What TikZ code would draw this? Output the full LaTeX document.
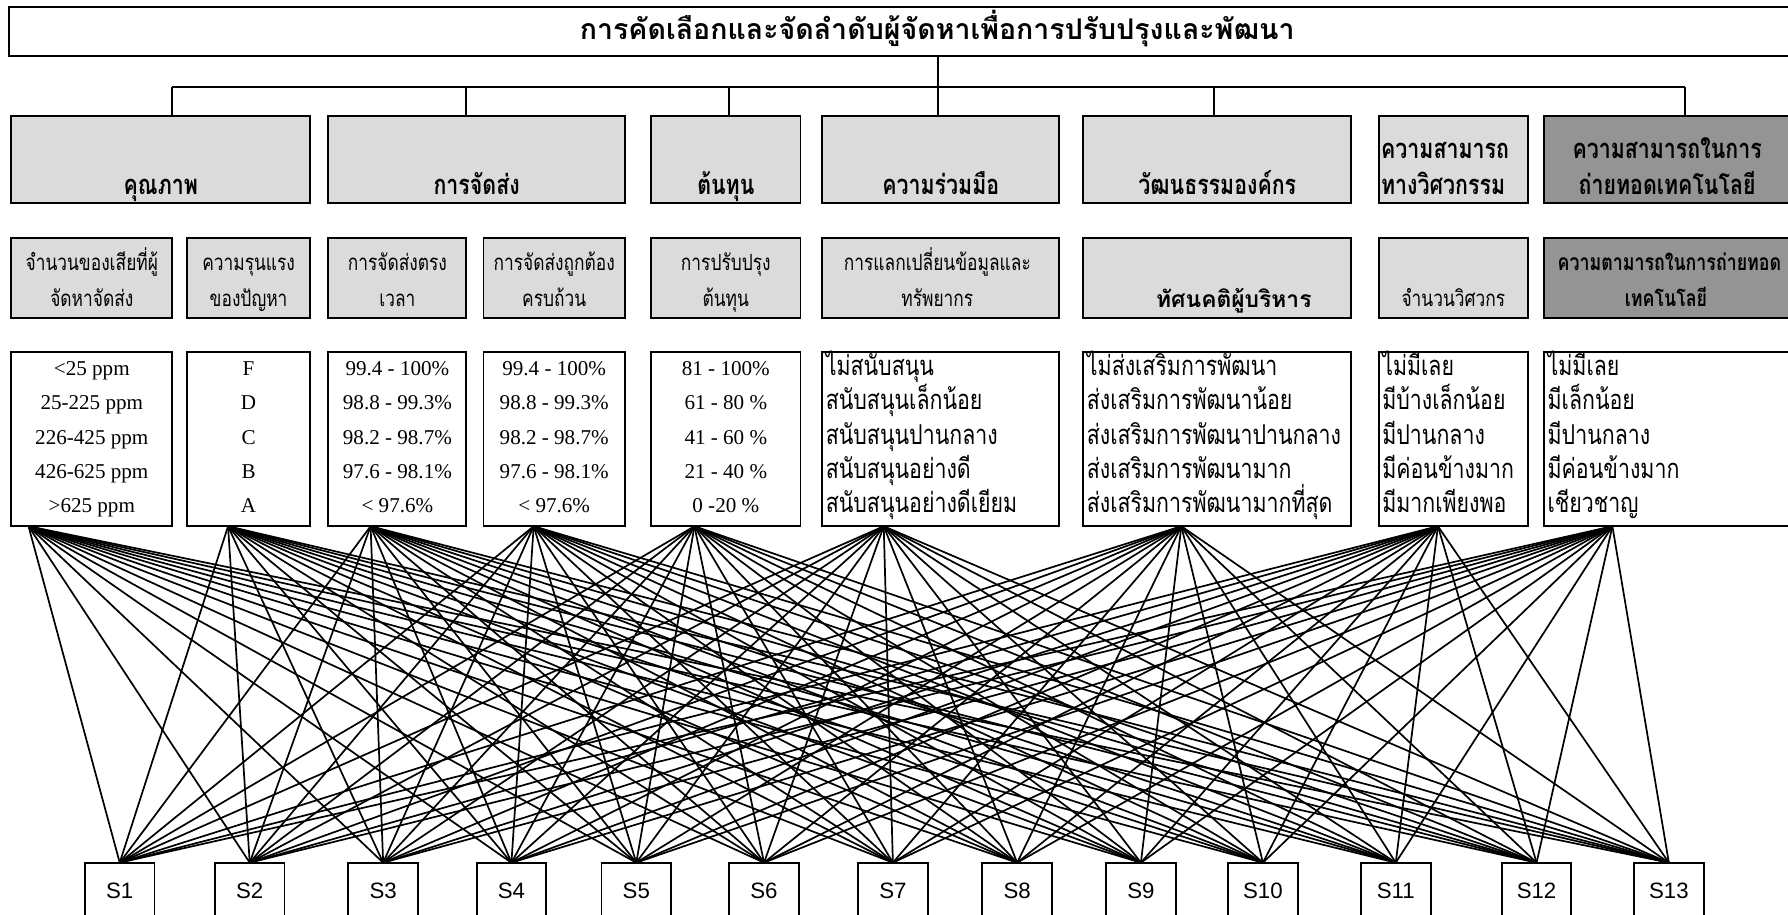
\documentclass[tikz,border=0pt]{standalone}
\usepackage{fontspec}
\setmainfont{Liberation Serif}
\newfontfamily\thai[Script=Thai,FakeStretch=0.78]{Loma}
\newfontfamily\thaiw[Script=Thai]{Loma}
\newfontfamily\arialf{Liberation Sans}
\usetikzlibrary{calc}
\definecolor{lightbox}{gray}{0.86}
\definecolor{darkbox}{gray}{0.58}
\newcommand\mkbox[6]{\node[#1, anchor=north west, minimum width={#4-#3}, minimum height={#6-#5}] (#2) at (#3,#5) {};}
\begin{document}
\begin{tikzpicture}[x=1pt,y=-1pt,
  box/.style={draw, line width=1.7pt, inner sep=0pt, outer sep=0pt},
  lbox/.style={box, fill=lightbox},
  dbox/.style={box, fill=darkbox},
  wbox/.style={box, fill=white},
  bus/.style={line width=1.7pt},
  conn/.style={line width=1.5pt},
  ttl/.style={font=\thaiw\bfseries\fontsize{25}{30}\selectfont, inner sep=0pt, anchor=base},
  hdr/.style={font=\thai\bfseries\fontsize{24}{28}\selectfont, inner sep=0pt, anchor=base},
  sub/.style={font=\thai\fontsize{19.5}{23}\selectfont, inner sep=0pt, anchor=base},
  subb/.style={font=\thai\bfseries\fontsize{20}{24}\selectfont, inner sep=0pt, anchor=base},
  subw/.style={font=\thaiw\bfseries\fontsize{20}{24}\selectfont, inner sep=0pt, anchor=base},
  val/.style={font=\fontsize{18.5}{22}\selectfont, inner sep=0pt, anchor=base},
  tval/.style={font=\thai\fontsize{24}{28}\selectfont, inner sep=0pt, anchor=base west},
  sup/.style={box, fill=white, anchor=north, minimum width=61, minimum height=70},
  slab/.style={font=\arialf\fontsize{19.5}{22}\selectfont, inner sep=0pt, anchor=base}
]
\useasboundingbox (0,0) rectangle (1568,802.4);
\fill[white] (0,0) rectangle (1568,802.4);

% title
\mkbox{wbox}{top}{7.5}{1640}{5.8}{49}
\node[ttl] (toptxt) at (822,34.5) {การคัดเลือกและจัดลำดับผู้จัดหาเพื่อการปรับปรุงและพัฒนา};

% row 2
\mkbox{lbox}{c1}{10}{272}{102}{178}
\mkbox{lbox}{c2}{288}{548}{102}{178}
\mkbox{lbox}{c3}{571}{702}{102}{178}
\mkbox{lbox}{c4}{721}{929}{102}{178}
\mkbox{lbox}{c5}{950}{1185}{102}{178}
\mkbox{lbox}{c6}{1209}{1340}{102}{178}
\mkbox{dbox}{c7}{1354}{1572}{102}{178}

% bus
\coordinate (bus0) at (822.6,76.6);
\draw[bus] (top.south -| bus0) -- (bus0);
\draw[bus] (151,76.6) coordinate (busL) -- (1478,76.6) coordinate (busR);
\draw[bus] (busL) -- (c1.north -| busL);
\draw[bus] (409,76.6) coordinate (b2) -- (c2.north -| b2);
\draw[bus] (639,76.6) coordinate (b3) -- (c3.north -| b3);
\draw[bus] (bus0) -- (c4.north -| bus0);
\draw[bus] (1064.6,76.6) coordinate (b5) -- (c5.north -| b5);
\draw[bus] (busR) -- (c7.north -| busR);

\node[hdr] (h1) at (141,171) {คุณภาพ};
\node[hdr] (h2) at (418,171) {การจัดส่ง};
\node[hdr] (h3) at (636.5,171) {ต้นทุน};
\node[hdr] (h4) at (825,171) {ความร่วมมือ};
\node[hdr] (h5) at (1067.5,171) {วัฒนธรรมองค์กร};
\node[hdr, anchor=base west] (h6a) at (1211,139) {ความสามารถ};
\node[hdr, anchor=base west] (h6b) at (1211,171) {ทางวิศวกรรม};
\node[hdr] (h7a) at (1462,139) {ความสามารถในการ};
\node[hdr] (h7b) at (1462,171) {ถ่ายทอดเทคโนโลยี};

% row 3
\mkbox{lbox}{d1}{10}{151}{209}{279}
\mkbox{lbox}{d2}{164}{272}{209}{279}
\mkbox{lbox}{d3}{288}{409}{209}{279}
\mkbox{lbox}{d4}{424}{548}{209}{279}
\mkbox{lbox}{d5}{571}{702}{209}{279}
\mkbox{lbox}{d6}{721}{929}{209}{279}
\mkbox{lbox}{d7}{950}{1185}{209}{279}
\mkbox{lbox}{d8}{1209}{1340}{209}{279}
\mkbox{dbox}{d9}{1354}{1572}{209}{279}

\node[sub] (s1a) at (80.5,237) {จำนวนของเสียที่ผู้};
\node[sub] (s1b) at (80.5,269) {จัดหาจัดส่ง};
\node[sub] (s2a) at (218,237) {ความรุนแรง};
\node[sub] (s2b) at (218,269) {ของปัญหา};
\node[sub] (s3a) at (348.5,237) {การจัดส่งตรง};
\node[sub] (s3b) at (348.5,269) {เวลา};
\node[sub] (s4a) at (486,237) {การจัดส่งถูกต้อง};
\node[sub] (s4b) at (486,269) {ครบถ้วน};
\node[sub] (s5a) at (636.5,237) {การปรับปรุง};
\node[sub] (s5b) at (636.5,269) {ต้นทุน};
\node[sub] (s6a) at (822,237) {การแลกเปลี่ยนข้อมูลและ};
\node[sub] (s6b) at (822,269) {ทรัพยากร};
\node[subw] (s7) at (1082,270) {ทัศนคติผู้บริหาร};
\node[sub] (s8) at (1274.5,269) {จำนวนวิศวกร};
\node[subb] (s9a) at (1464,237) {ความตามารถในการถ่ายทอด};
\node[subb] (s9b) at (1461,269) {เทคโนโลยี};

% row 4
\mkbox{wbox}{e1}{10}{151}{309}{461.5}
\mkbox{wbox}{e2}{164}{272}{309}{461.5}
\mkbox{wbox}{e3}{288}{409}{309}{461.5}
\mkbox{wbox}{e4}{424}{548}{309}{461.5}
\mkbox{wbox}{e5}{571}{702}{309}{461.5}
\mkbox{wbox}{e6}{721}{929}{309}{461.5}
\mkbox{wbox}{e7}{950}{1185}{309}{461.5}
\mkbox{wbox}{e8}{1209}{1340}{309}{461.5}
\mkbox{wbox}{e9}{1354}{1572}{309}{461.5}

\foreach \t [count=\i] in {{<25 ppm},{25-225 ppm},{226-425 ppm},{426-625 ppm},{>625 ppm}}
  \node[val] (v1\i) at (80.5,{329+30.2*(\i-1)}) {\t};
\foreach \t [count=\i] in {F,D,C,B,A}
  \node[val] (v2\i) at (218,{329+30.2*(\i-1)}) {\t};
\foreach \t [count=\i] in {{99.4 - 100\%},{98.8 - 99.3\%},{98.2 - 98.7\%},{97.6 - 98.1\%},{< 97.6\%}}
  {\node[val] (v3\i) at (348.5,{329+30.2*(\i-1)}) {\t};
   \node[val] (v4\i) at (486,{329+30.2*(\i-1)}) {\t};}
\foreach \t [count=\i] in {{81 - 100\%},{61 - 80 \%},{41 - 60 \%},{21 - 40 \%},{0 -20 \%}}
  \node[val] (v5\i) at (636.5,{329+30.2*(\i-1)}) {\t};
\foreach \t [count=\i] in {ไม่สนับสนุน,สนับสนุนเล็กน้อย,สนับสนุนปานกลาง,สนับสนุนอย่างดี,สนับสนุนอย่างดีเยียม}
  \node[tval] (v6\i) at (724,{329+30.2*(\i-1)}) {\t};
\foreach \t [count=\i] in {ไม่ส่งเสริมการพัฒนา,ส่งเสริมการพัฒนาน้อย,ส่งเสริมการพัฒนาปานกลาง,ส่งเสริมการพัฒนามาก,ส่งเสริมการพัฒนามากที่สุด}
  \node[tval] (v7\i) at (953,{329+30.2*(\i-1)}) {\t};
\foreach \t [count=\i] in {ไม่มีเลย,มีบ้างเล็กน้อย,มีปานกลาง,มีค่อนข้างมาก,มีมากเพียงพอ}
  \node[tval] (v8\i) at (1212,{329+30.2*(\i-1)}) {\t};
\foreach \t [count=\i] in {ไม่มีเลย,มีเล็กน้อย,มีปานกลาง,มีค่อนข้างมาก,เชียวชาญ}
  \node[tval] (v9\i) at (1357,{329+30.2*(\i-1)}) {\t};

% source points on row-4 box bottoms
\coordinate (p1) at (e1.south west -| 25,0);
\coordinate (p2) at (e2.south west -| 200,0);
\coordinate (p3) at (e3.south west -| 325,0);
\coordinate (p4) at (e4.south west -| 468,0);
\coordinate (p5) at (e5.south west -| 609,0);
\coordinate (p6) at (e6.south west -| 775,0);
\coordinate (p7) at (e7.south west -| 1036,0);
\coordinate (p8) at (e8.south west -| 1261,0);
\coordinate (p9) at (e9.south west -| 1414,0);

% suppliers
\foreach \x [count=\i] in {105,219,336,448.5,558,670,783,892,1000.5,1107.5,1224,1347.5,1463.5}
  \node[sup] (S\i) at (\x,756.5) {};
\foreach \i in {1,...,13}
  \node[slab] (SL\i) at ($(S\i.north)+(0,31)$) {S\i};

% connectors
\foreach \p in {1,...,9}
  \foreach \s in {1,...,13}
    \draw[conn] (p\p) -- (S\s.north);
\end{tikzpicture}
\end{document}
